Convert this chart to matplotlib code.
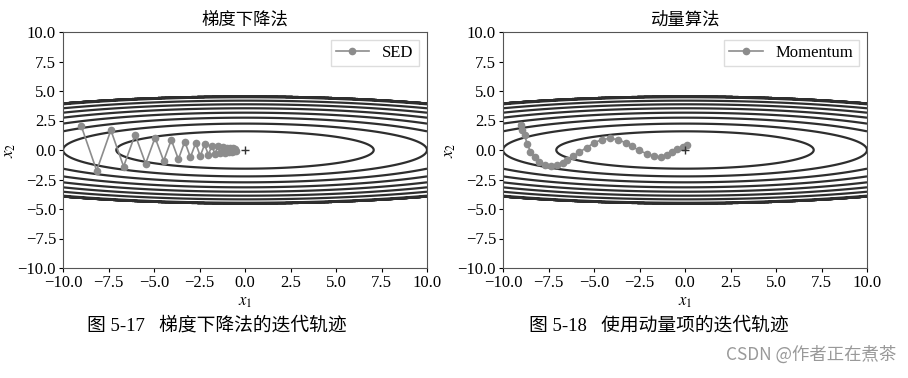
import numpy as np
import matplotlib
matplotlib.use("Agg")
import matplotlib.pyplot as plt

plt.rcParams['font.family'] = ['Liberation Serif', 'Noto Sans CJK SC']
plt.rcParams['mathtext.fontset'] = 'stix'
plt.rcParams['axes.unicode_minus'] = True

# contour levels of f(x1, x2) = x1^2/20 + x2^2
contour_levels = [2.5, 5.0, 7.5, 10.0, 12.5, 15.0, 17.5, 20.0]
mask_limit = 20.5

# SGD trajectory
sgd_x = [-9.0, -8.15, -7.37, -6.67, -6.04, -5.46, -4.94, -4.47, -4.05, -3.66,
         -3.31, -3.0, -2.71, -2.46, -2.22, -2.01, -1.82, -1.65, -1.49, -1.35,
         -1.22, -1.10, -1.0, -0.90, -0.82, -0.74, -0.67, -0.61, -0.55, -0.50]
sgd_y = [2.05, -1.75, 1.68, -1.4, 1.3, -1.15, 1.05, -0.92, 0.86, -0.78,
         0.72, -0.62, 0.58, -0.52, 0.47, -0.42, 0.38, -0.34, 0.31, -0.28,
         0.25, -0.22, 0.2, -0.18, 0.16, -0.14, 0.13, -0.12, 0.11, -0.09]

# Momentum trajectory
mom_x = [-8.99, -8.93, -8.81, -8.68, -8.49, -8.26, -8.02, -7.70, -7.37, -7.03,
         -6.73, -6.51, -6.18, -5.82, -5.41, -5.0, -4.58, -4.13, -3.67, -3.26,
         -2.90, -2.53, -2.11, -1.71, -1.34, -1.01, -0.73, -0.42, -0.13, 0.13]
mom_y = [2.1, 1.72, 1.25, 0.55, -0.15, -0.6, -1.0, -1.25, -1.38, -1.3,
         -1.1, -0.85, -0.55, -0.2, 0.2, 0.6, 0.88, 0.98, 0.88, 0.6,
         0.3, -0.03, -0.31, -0.52, -0.6, -0.45, -0.18, 0.1, 0.28, 0.4]

titles = ['梯度下降法', '动量算法']
labels = ['SED', 'Momentum']
captions = ['图 5-17   梯度下降法的迭代轨迹', '图 5-18   使用动量项的迭代轨迹']

gx = np.arange(-10, 10.01, 0.01)
gy = np.arange(-5, 5.01, 0.01)
X, Y = np.meshgrid(gx, gy)
Z = X ** 2 / 20 + Y ** 2
Z[Z > mask_limit] = 0

fig = plt.figure(figsize=(9.08, 3.78), dpi=100)
lefts = [63 / 908, 503 / 908]
traj = [(sgd_x, sgd_y), (mom_x, mom_y)]
cap_x = [87 / 908, 529 / 908]

for i in range(2):
    ax = fig.add_axes([lefts[i], 1 - 268 / 378, 364 / 908, 236 / 378])
    ax.contour(X, Y, Z, levels=contour_levels, colors='#2e2e2e', linewidths=1.6)
    tx, ty = traj[i]
    ax.plot(tx, ty, 'o-', color='#8c8c8c', markersize=4.5, linewidth=1.2, label=labels[i])
    ax.plot(0, 0, '+', color='#333333', markersize=6)
    ax.set_xlim(-10, 10)
    ax.set_ylim(-10, 10)
    ax.set_xticks(np.arange(-10, 10.1, 2.5))
    ax.set_yticks(np.arange(-10, 10.1, 2.5))
    ax.tick_params(labelsize=12, length=3, width=0.8, pad=2)
    ax.set_xlabel('$x_1$', fontsize=12, labelpad=2)
    ax.set_ylabel('$x_2$', fontsize=12, labelpad=0)
    ax.set_title(titles[i], fontsize=12.5, family='Noto Sans CJK SC', pad=5)
    leg = ax.legend(loc='upper right', fontsize=12, handlelength=2.0,
                    borderpad=0.3, fancybox=False, framealpha=1)
    leg.get_frame().set_edgecolor('#dddddd')
    for s in ax.spines.values():
        s.set_color('#555555')
    fig.text(cap_x[i], 1 - 326 / 378, captions[i], fontsize=13.5, va='center', ha='left')

fig.text(896 / 908, 1 - 355 / 378, 'CSDN @作者正在煮茶', fontsize=12.5, color='#999999',
         family=['Noto Sans CJK SC'], ha='right', va='center')

fig.savefig('out.png', dpi=100)
